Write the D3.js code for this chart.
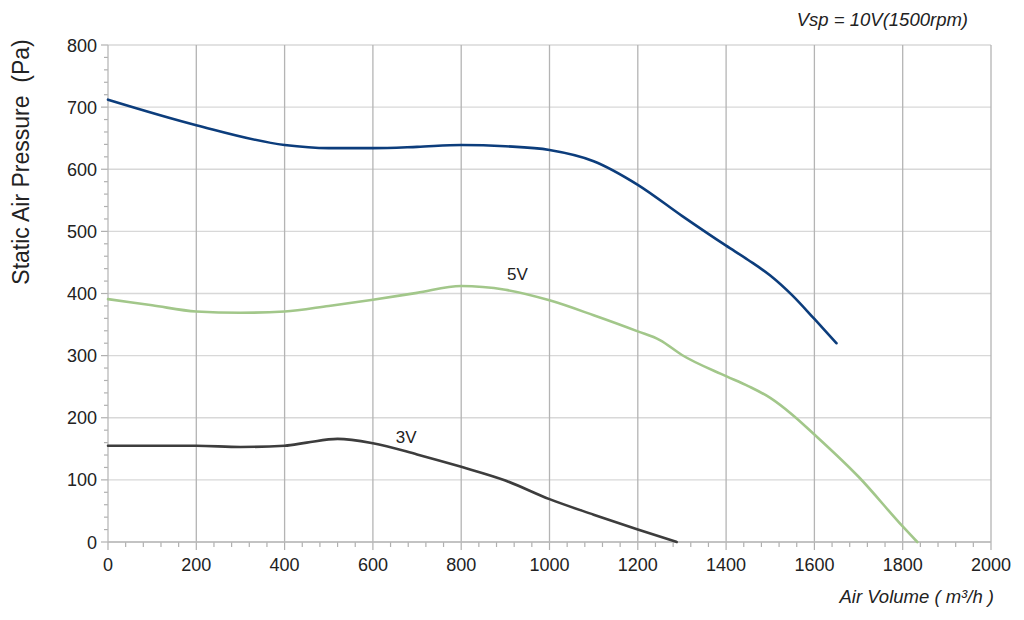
<!DOCTYPE html>
<html><head><meta charset="utf-8">
<script src="https://cdn.jsdelivr.net/npm/d3@7"></script>
<style>html,body{margin:0;padding:0;background:#fff;}svg{display:block;font-family:"Liberation Sans",Arial,sans-serif;}</style>
</head><body>
<svg id="c" width="1024" height="620"></svg>
<script>
// Data
const xTicks = [0,200,400,600,800,1000,1200,1400,1600,1800,2000];
const yTicks = [0,100,200,300,400,500,600,700,800];
const v10x = [0,200,400,500,600,700,800,900,1000,1100,1200,1300,1400,1450,1500,1550,1600,1650];
const v10y = [712,671,639,634,634,636,639,637,631,613,575,525,477,454,429,397,359,320];
const v5x = [0,100,200,300,400,500,600,700,800,900,1000,1100,1200,1250,1300,1400,1450,1500,1550,1600,1700,1800,1833];
const v5y = [391,381,371,369,371,380,390,401,412,406,389,365,339,325,301,267,251,232,205,173,105,25,0];
const v3x = [0,200,300,400,450,520,600,700,800,900,1000,1100,1200,1288];
const v3y = [155,155,153,155,160,166,159,141,121,99,69,44,20,0];
const seriesNames = ["10V","5V","3V"];
const seriesColors = ["#0c3d7c","#a2c78a","#3d3d3d"];

const svg = d3.select("#c");
const L=108, R=991, T=45, B=542;
const x = d3.scaleLinear().domain([0,2000]).range([L,R]);
const y = d3.scaleLinear().domain([0,800]).range([B,T]);

// horizontal grid
svg.append("g").selectAll("line").data(yTicks).join("line")
  .attr("x1",L).attr("x2",R).attr("y1",d=>y(d)).attr("y2",d=>y(d))
  .attr("stroke","#d8d8d8").attr("stroke-width",1.3);
// vertical grid
svg.append("g").selectAll("line").data(xTicks.slice(1)).join("line")
  .attr("x1",d=>x(d)).attr("x2",d=>x(d)).attr("y1",T).attr("y2",B)
  .attr("stroke","#b4b4b4").attr("stroke-width",1.3);

// x axis
const xMinor = d3.range(0,2001,40);
svg.append("g").selectAll("line").data(xMinor).join("line")
  .attr("x1",d=>x(d)).attr("x2",d=>x(d)).attr("y1",B).attr("y2",d=>B+(d%200===0?8:5))
  .attr("stroke","#b0b0b0").attr("stroke-width",1.2);
svg.append("line").attr("x1",L).attr("x2",R).attr("y1",B).attr("y2",B).attr("stroke","#b8b8b8").attr("stroke-width",1.3);
svg.append("g").selectAll("text").data(xTicks).join("text")
  .attr("x",d=>x(d)).attr("y",B+29).attr("text-anchor","middle")
  .attr("font-size",18).attr("fill","#222").text(d=>d);

// y axis
const yMinor = d3.range(0,801,20);
svg.append("g").selectAll("line").data(yMinor).join("line")
  .attr("x1",d=>L-(d%100===0?7:4)).attr("x2",L).attr("y1",d=>y(d)).attr("y2",d=>y(d))
  .attr("stroke","#b0b0b0").attr("stroke-width",1.2);
svg.append("line").attr("x1",L).attr("x2",L).attr("y1",T).attr("y2",B).attr("stroke","#b8b8b8").attr("stroke-width",1.3);
svg.append("g").selectAll("text").data(yTicks).join("text")
  .attr("x",L-11).attr("y",d=>y(d)+6.5).attr("text-anchor","end")
  .attr("font-size",18).attr("fill","#222").text(d=>d);

// lines
const line = d3.line().x(d=>x(d[0])).y(d=>y(d[1])).curve(d3.curveMonotoneX);
const series = [d3.zip(v10x,v10y), d3.zip(v5x,v5y), d3.zip(v3x,v3y)];
series.forEach((s,i)=>{
  svg.append("path").datum(s).attr("d",line).attr("fill","none")
    .attr("stroke",seriesColors[i]).attr("stroke-width",2.6).attr("stroke-linecap","round");
});

// labels
svg.append("text").attr("x",x(904)).attr("y",y(421)).attr("font-size",17).attr("fill","#222").text(seriesNames[1]);
svg.append("text").attr("x",x(652)).attr("y",y(160)).attr("font-size",17).attr("fill","#222").text(seriesNames[2]);

svg.append("text").attr("x",968).attr("y",26).attr("text-anchor","end").attr("font-size",18.5)
  .attr("font-style","italic").attr("fill","#222").text("Vsp = 10V(1500rpm)");
svg.append("text").attr("x",994).attr("y",603).attr("text-anchor","end").attr("font-size",18.5)
  .attr("font-style","italic").attr("fill","#222").text("Air Volume ( m³/h )");
svg.append("text").attr("transform","translate(29,162) rotate(-90)").attr("text-anchor","middle")
  .attr("font-size",23).attr("fill","#222").style("white-space","pre").text("Static Air Pressure  (Pa)");
</script>
</body></html>
